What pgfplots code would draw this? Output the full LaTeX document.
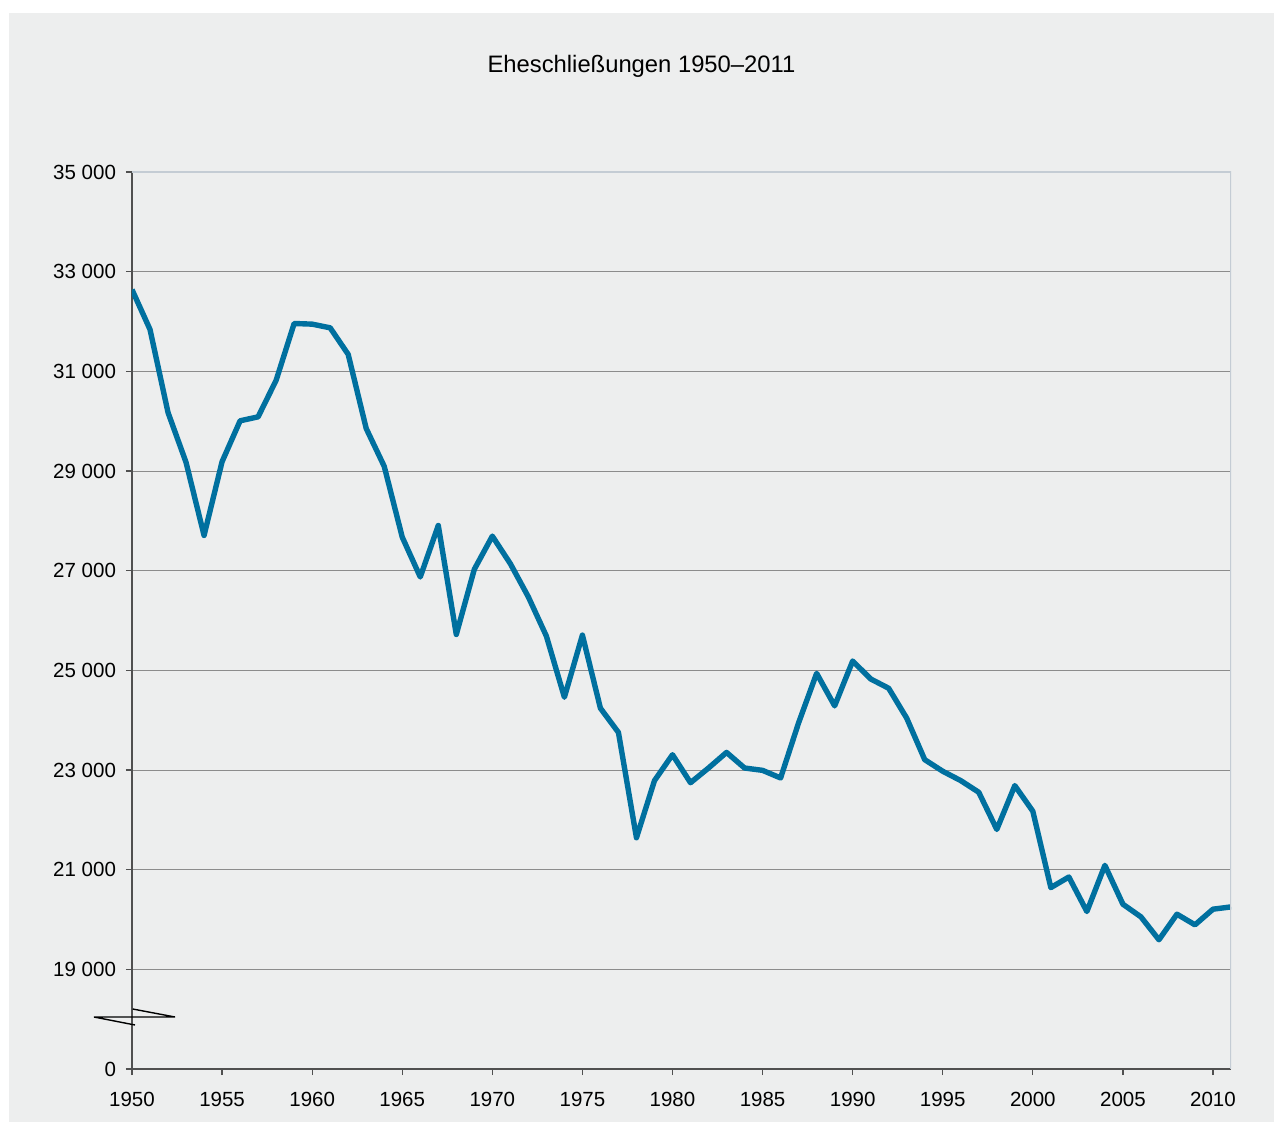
\documentclass[border=0pt]{standalone}
\usepackage{fontspec}
\setmainfont{Liberation Sans}
\usepackage{pgfplots}
\pgfplotsset{compat=1.18}
\definecolor{panelgray}{HTML}{EDEEEE}
\definecolor{lineblue}{HTML}{00709F}
\definecolor{gridgray}{HTML}{8C8C8C}
\definecolor{axisgray}{HTML}{505050}
\definecolor{framegray}{HTML}{C4CCD4}
\begin{document}
\begin{tikzpicture}
\fill[white] (0pt,0pt) rectangle (637pt,-561pt);
\fill[panelgray] (4.5pt,-6.5pt) rectangle (637pt,-561pt);
\node[font=\fontsize{11.9}{14}\selectfont] at (320.75pt,-33pt) {Eheschließungen 1950–2011};
\begin{axis}[
  at={(66pt,-534.5pt)}, anchor=south west,
  scale only axis, width=549.5pt, height=448.5pt,
  xmin=1950, xmax=2011, ymin=17000, ymax=35000,
  scaled y ticks=false, scaled x ticks=false,
  axis lines=left, axis line style={-, draw=axisgray, line width=0.7pt},
  xtick={1950,1955,...,2010},
  xticklabels={1950,1955,1960,1965,1970,1975,1980,1985,1990,1995,2000,2005,2010},
  ytick={17000,19000,...,35000},
  yticklabels={0,19 000,21 000,23 000,25 000,27 000,29 000,31 000,33 000,35 000},
  tick align=outside, major tick length=3pt,
  tick style={draw=axisgray, line width=0.6pt},
  ymajorgrids, grid style={draw=gridgray, line width=0.5pt},
  ticklabel style={font=\fontsize{10.25}{12}\selectfont},
  xticklabel style={yshift=-5pt},
  yticklabel style={xshift=-1.5pt},
]
\addplot[color=lineblue, line width=2.7pt, line join=round] coordinates {
(1950,32640) (1951,31840) (1952,30173) (1953,29173) (1954,27707)
(1955,29187) (1956,30007) (1957,30087) (1958,30820) (1959,31960)
(1960,31947) (1961,31873) (1962,31340) (1963,29853) (1964,29093)
(1965,27673) (1966,26873) (1967,27907) (1968,25720) (1969,27027)
(1970,27693) (1971,27140) (1972,26473) (1973,25687) (1974,24460)
(1975,25707) (1976,24240) (1977,23753) (1978,21640) (1979,22787)
(1980,23307) (1981,22745) (1982,23040) (1983,23353) (1984,23040)
(1985,22993) (1986,22840) (1987,23947) (1988,24940) (1989,24287)
(1990,25187) (1991,24827) (1992,24640) (1993,24040) (1994,23207)
(1995,22975) (1996,22787) (1997,22553) (1998,21807) (1999,22687)
(2000,22173) (2001,20640) (2002,20853) (2003,20160) (2004,21087)
(2005,20307) (2006,20053) (2007,19593) (2008,20107) (2009,19893)
(2010,20207) (2011,20253)
};
\draw[framegray, line width=0.7pt] (rel axis cs:0,1) -- (rel axis cs:1,1) -- (rel axis cs:1,0);
\end{axis}
\draw[black, line width=0.7pt, line join=miter] (67.5pt,-512.5pt) -- (47pt,-508.5pt) -- (87.5pt,-508.5pt) -- (66.35pt,-504.5pt);
\end{tikzpicture}
\end{document}
